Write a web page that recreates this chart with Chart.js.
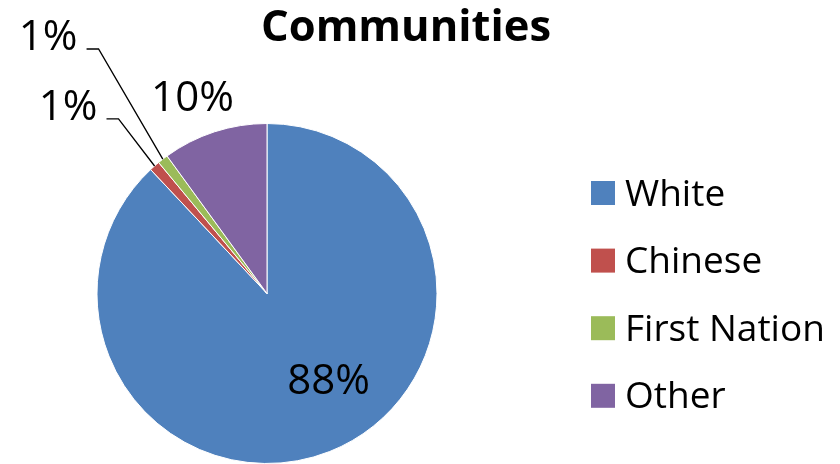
<!DOCTYPE html>
<html>
<head>
<meta charset="utf-8">
<script src="https://cdn.jsdelivr.net/npm/chart.js@4/dist/chart.umd.min.js"></script>
<style>
html,body{margin:0;padding:0;background:#fff;}
#c{display:block;}
</style>
</head>
<body>
<canvas id="c" width="840" height="464"></canvas>
<script>
// ---- data ----
const chartTitle = "Communities";
const categories = ["White", "Chinese", "First Nation", "Other"];
const values = [88, 1, 1, 10];
const colors = ["#4F81BD", "#C0504D", "#9BBB59", "#8064A2"];

// ---- label placement styling (radius factor, angle shift in degrees, leader line) ----
const labelPlacement = [
  {f: 0.625, shift: -13.9, leader: false},
  {f: 1.61, shift: -5.2, leader: true},
  {f: 1.99, shift: -2.5, leader: true},
  {f: 1.24, shift: -2.7, leader: false}
];

const FONT = "'Open Sans', Lato, sans-serif";

const drawPlugin = {
  id: 'customDraw',
  afterDraw(chart) {
    const ctx = chart.ctx;
    ctx.save();
    // Title
    ctx.fillStyle = '#000';
    ctx.font = "bold 43.5px " + FONT;
    ctx.textAlign = 'center';
    ctx.textBaseline = 'alphabetic';
    ctx.fillText(chartTitle, 406, 41);

    // Legend
    const lx = 591, ly0 = 193, step = 67.6, sq = 24;
    ctx.font = "37px " + FONT;
    ctx.textAlign = 'left';
    chart.data.labels.forEach((lab, i) => {
      const cy = ly0 + i * step;
      ctx.fillStyle = chart.data.datasets[0].backgroundColor[i];
      ctx.fillRect(lx, cy - sq / 2, sq, sq);
      ctx.fillStyle = '#000';
      ctx.fillText(lab, 625, cy + 12.5);
    });

    // Data labels
    const meta = chart.getDatasetMeta(0);
    const data = chart.data.datasets[0].data;
    const total = data.reduce((a, b) => a + b, 0);
    ctx.font = "42px " + FONT;
    meta.data.forEach((arc, i) => {
      const p = labelPlacement[i];
      const mid = (arc.startAngle + arc.endAngle) / 2;
      const r = arc.outerRadius;
      const a = mid + p.shift * Math.PI / 180;
      const tx = arc.x + p.f * r * Math.cos(a);
      const ty = arc.y + p.f * r * Math.sin(a);
      const txt = Math.round(data[i] / total * 100) + '%';
      ctx.fillStyle = '#000';
      ctx.textAlign = 'center';
      ctx.textBaseline = 'alphabetic';
      ctx.fillText(txt, tx, ty + 14.5);
      if (p.leader) {
        const w = ctx.measureText(txt).width;
        const right = tx + w / 2;
        const ax = arc.x + r * Math.cos(mid);
        const ay = arc.y + r * Math.sin(mid);
        ctx.strokeStyle = '#000';
        ctx.lineWidth = 1.3;
        ctx.beginPath();
        ctx.moveTo(ax, ay);
        ctx.lineTo(right + 21, ty + 13.5);
        ctx.lineTo(right + 9, ty + 13.5);
        ctx.stroke();
      }
    });
    ctx.restore();
  }
};

new Chart(document.getElementById('c'), {
  type: 'pie',
  data: {
    labels: categories,
    datasets: [{
      data: values,
      backgroundColor: colors,
      borderColor: '#ffffff',
      borderWidth: 1
    }]
  },
  options: {
    responsive: false,
    animation: false,
    devicePixelRatio: 1,
    events: [],
    layout: {padding: {left: 96, right: 402, top: 123, bottom: 0}},
    plugins: {
      legend: {display: false},
      title: {display: false},
      tooltip: {enabled: false}
    }
  },
  plugins: [drawPlugin]
});
</script>
</body>
</html>
